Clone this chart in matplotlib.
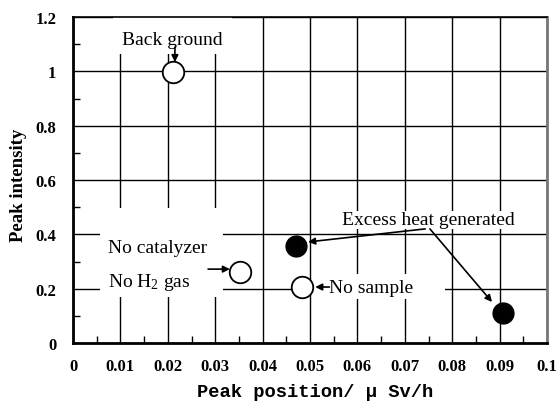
import matplotlib
matplotlib.use("Agg")
import matplotlib.pyplot as plt
from matplotlib.ticker import MultipleLocator
from matplotlib.patches import Rectangle

open_x = [0.021, 0.0352, 0.0483]
open_y = [0.996, 0.261, 0.206]
filled_x = [0.047, 0.0907]
filled_y = [0.357, 0.110]
xticks = [0, 0.01, 0.02, 0.03, 0.04, 0.05, 0.06, 0.07, 0.08, 0.09, 0.1]
xticklabels = ['0', '0.01', '0.02', '0.03', '0.04', '0.05', '0.06', '0.07', '0.08', '0.09', '0.1']
yticks = [0, 0.2, 0.4, 0.6, 0.8, 1.0, 1.2]
yticklabels = ['0', '0.2', '0.4', '0.6', '0.8', '1', '1.2']

serif = ['Liberation Serif', 'DejaVu Serif']
plt.rcParams['mathtext.fontset'] = 'custom'
plt.rcParams['mathtext.rm'] = 'Liberation Serif'
plt.rcParams['mathtext.it'] = 'Liberation Serif:italic'
plt.rcParams['mathtext.bf'] = 'Liberation Serif:bold'

fig = plt.figure(figsize=(5.59, 4.02), dpi=100)
ax = fig.add_axes([73/559, 1 - 344/402, 474/559, 326/402])
ax.set_xlim(0, 0.1)
ax.set_ylim(0, 1.2)
ax.set_xticks(xticks)
ax.set_xticklabels(xticklabels, fontfamily=serif, fontweight='bold', fontsize=12)
ax.set_yticks(yticks)
ax.set_yticklabels(yticklabels, fontfamily=serif, fontweight='bold', fontsize=12)
ax.xaxis.set_minor_locator(MultipleLocator(0.005))
ax.yaxis.set_minor_locator(MultipleLocator(0.1))
ax.tick_params(axis='x', which='major', length=0, pad=11)
ax.tick_params(axis='y', which='major', length=0, pad=12)
ax.tick_params(which='minor', direction='in', length=5, width=1, color='black')
ax.grid(True, which='major', color='black', linewidth=1)
ax.set_axisbelow(True)
for s in ['left', 'bottom']:
    ax.spines[s].set_linewidth(2)
ax.spines['top'].set_linewidth(1.2)
ax.spines['right'].set_color('#777777')
ax.spines['right'].set_linewidth(2)

# white backgrounds behind the annotation texts
for (x0, y0, x1, y1) in [(0.0085, 1.064, 0.0335, 1.2),
                         (0.0057, 0.169, 0.0316, 0.497),
                         (0.0549, 0.420, 0.0970, 0.486),
                         (0.0506, 0.162, 0.0785, 0.254)]:
    ax.add_patch(Rectangle((x0, y0), x1 - x0, y1 - y0, fc='white', ec='none', zorder=2))

ax.plot(open_x, open_y, 'o', ms=15.5, mfc='white', mec='black', mew=1.3, zorder=5, clip_on=False)
ax.plot(filled_x, filled_y, 'o', ms=15, mfc='black', mec='black', zorder=5)

fig.text(315/559, 1 - 393/402, 'Peak position/ μ Sv/h',
         fontfamily=['Liberation Mono', 'DejaVu Sans Mono'],
         fontweight='bold', fontsize=13.5, ha='center', va='center')
fig.text(19/559, 1 - 185/402, 'Peak intensity', fontfamily=serif, fontweight='bold',
         fontsize=13.5, rotation=90, ha='center', va='center')

ap = dict(arrowstyle='-|>', color='black', lw=1.2, mutation_scale=10, shrinkA=0, shrinkB=0)
tf = dict(fontfamily=serif, fontsize=14, zorder=6)

ax.text(0.0209, 1.119, 'Back ground', ha='center', va='center', **tf)
ax.annotate('', xy=(0.0215, 1.034), xytext=(0.0215, 1.089), arrowprops=ap, zorder=6)

ax.text(0.0074, 0.353, 'No catalyzer', ha='left', va='center', **tf)
ax.text(0.0074, 0.228, r'No H$_\mathrm{2}$ gas', ha='left', va='center', **tf)
ax.annotate('', xy=(0.0331, 0.272), xytext=(0.0285, 0.272), arrowprops=ap, zorder=6)

ax.text(0.054, 0.206, 'No sample', ha='left', va='center', **tf)
ax.annotate('', xy=(0.0511, 0.206), xytext=(0.0541, 0.206), arrowprops=ap, zorder=6)

ax.text(0.0749, 0.456, 'Excess heat generated', ha='center', va='center', **tf)
ax.annotate('', xy=(0.0496, 0.372), xytext=(0.0743, 0.420), arrowprops=ap, zorder=6)
ax.annotate('', xy=(0.0884, 0.151), xytext=(0.0753, 0.420), arrowprops=ap, zorder=6)

fig.savefig('out.png', dpi=100)
